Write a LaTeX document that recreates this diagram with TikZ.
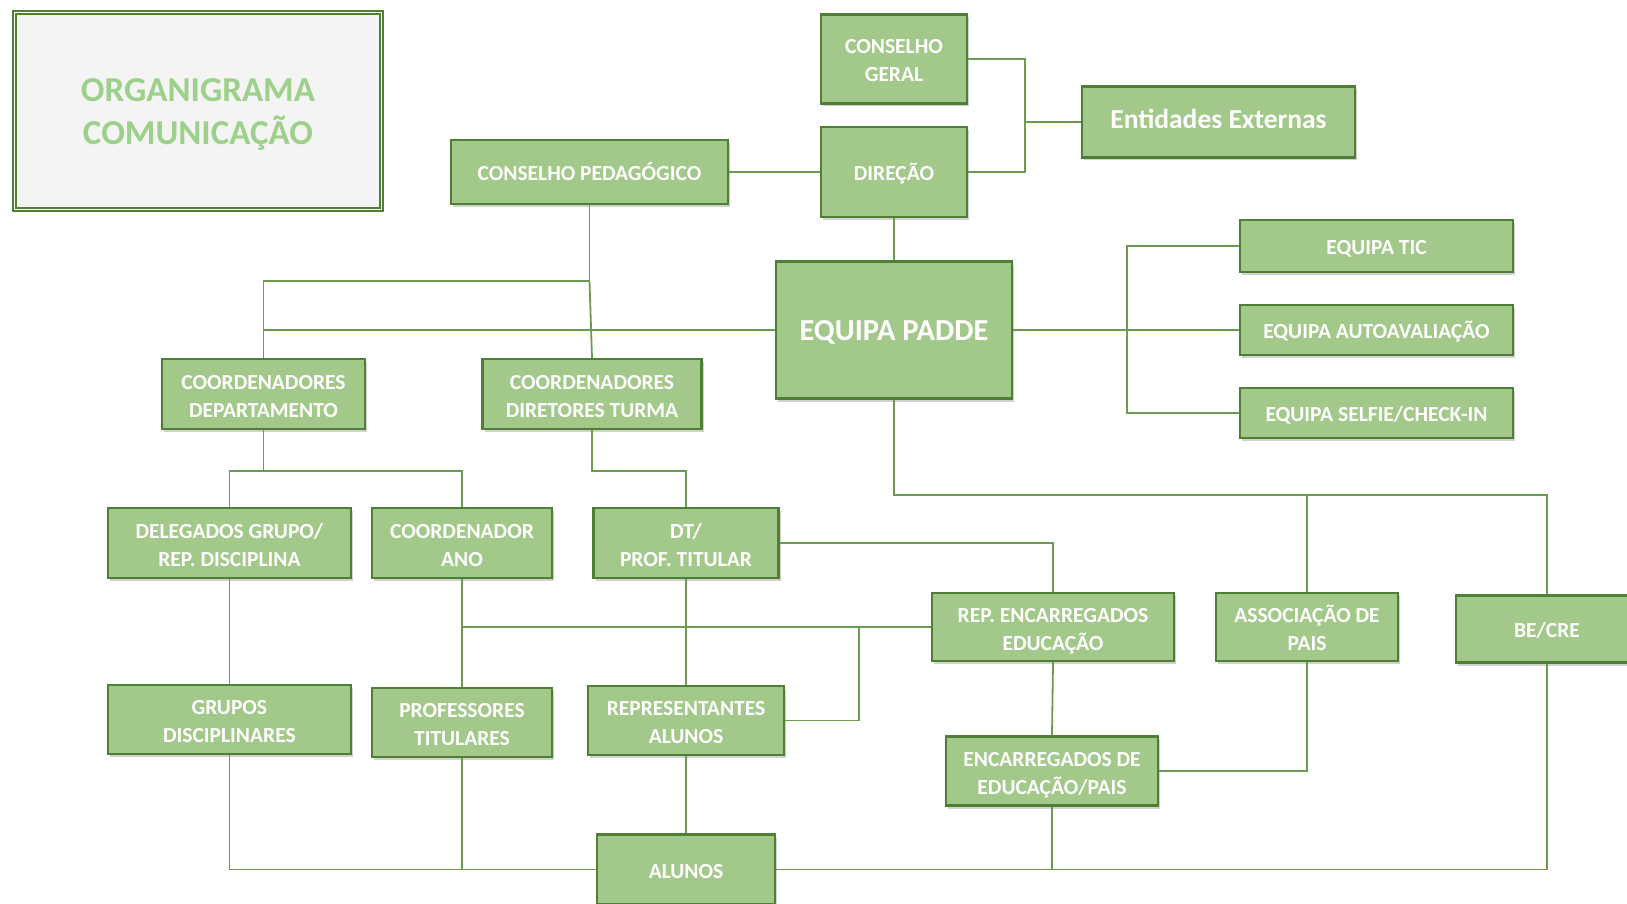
\documentclass[tikz,border=0pt]{standalone}
\usepackage{fontspec}
\setmainfont{Carlito}
\usetikzlibrary{shadows}
\definecolor{boxfill}{HTML}{A3C98A}
\definecolor{boxedge}{HTML}{4F7F35}
\definecolor{linec}{HTML}{6B9B4E}
\definecolor{titlefill}{HTML}{F4F4F4}
\definecolor{titletext}{HTML}{9DD08A}
\tikzset{
  box/.style={draw=boxedge, line width=2.2pt, fill=boxfill, text=white, align=center,
    inner sep=0pt, font=\bfseries\fontsize{21.5}{28}\selectfont, text height=22pt, text depth=5pt,
    drop shadow={shadow xshift=2pt, shadow yshift=-3pt, opacity=0.3, fill=black!60}},
  box2/.style={box, text height=51pt},
  conn/.style={draw=linec, line width=1.8pt},
}
\begin{document}
\begin{tikzpicture}[x=1pt,y=-1pt]
\useasboundingbox (0,0) rectangle (1627,904);
% title
\node[draw=boxedge, double=white, double distance=1.5pt, line width=1.4pt, fill=titlefill,
  minimum width=367pt, minimum height=197pt, align=center, text=titletext, inner sep=0pt,
  font=\bfseries\fontsize{35}{43}\selectfont, text height=74.8pt, text depth=7pt,
  drop shadow={shadow xshift=2pt, shadow yshift=-3pt, opacity=0.3, fill=black!60}]
  (title) at (198,111) {ORGANIGRAMA\\COMUNICAÇÃO};
% boxes
\node[box2, minimum width=146pt, minimum height=89pt] (cg) at (894,59) {CONSELHO\\GERAL};
\node[box, minimum width=146pt, minimum height=90pt] (dir) at (894,172) {DIREÇÃO};
\node[box, minimum width=273pt, minimum height=71pt, font=\bfseries\fontsize{27.5}{32}\selectfont, text height=18.6pt] (ent) at (1218.5,122) {Entidades Externas};
\node[box, minimum width=277pt, minimum height=64pt] (cped) at (589.5,172) {CONSELHO PEDAGÓGICO};
\node[box, minimum width=236pt, minimum height=137pt, font=\bfseries\fontsize{30.5}{36}\selectfont, text height=25.8pt] (padde) at (894,330) {EQUIPA PADDE};
\node[box, minimum width=273pt, minimum height=52pt] (tic) at (1376.5,246) {EQUIPA TIC};
\node[box, minimum width=273pt, minimum height=50pt] (auto) at (1376.5,330) {EQUIPA AUTOAVALIAÇÃO};
\node[box, minimum width=273pt, minimum height=50pt] (selfie) at (1376.5,413) {EQUIPA SELFIE/CHECK-IN};
\node[box2, minimum width=203pt, minimum height=70pt] (cdep) at (263.5,394) {COORDENADORES\\DEPARTAMENTO};
\node[box2, minimum width=219pt, minimum height=70pt] (cdir) at (592,394) {COORDENADORES\\DIRETORES TURMA};
\node[box2, minimum width=243pt, minimum height=70pt] (del) at (229.4,543) {DELEGADOS GRUPO/\\REP. DISCIPLINA};
\node[box2, minimum width=180pt, minimum height=70pt] (cano) at (462,543) {COORDENADOR\\ANO};
\node[box2, minimum width=185pt, minimum height=70pt] (dt) at (686,543) {DT/\\PROF. TITULAR};
\node[box2, minimum width=242pt, minimum height=68pt] (repenc) at (1053,627) {REP. ENCARREGADOS\\EDUCAÇÃO};
\node[box2, minimum width=182pt, minimum height=68pt] (assoc) at (1307,627) {ASSOCIAÇÃO DE\\PAIS};
\node[box, minimum width=182pt, minimum height=67pt] (becre) at (1547,629) {BE/CRE};
\node[box2, minimum width=243pt, minimum height=69pt] (grup) at (229.4,719.5) {GRUPOS\\DISCIPLINARES};
\node[box2, minimum width=180pt, minimum height=69pt] (prof) at (462,722.5) {PROFESSORES\\TITULARES};
\node[box2, minimum width=196pt, minimum height=69pt] (repal) at (686,720.5) {REPRESENTANTES\\ALUNOS};
\node[box2, minimum width=212pt, minimum height=69pt] (encedu) at (1052,771) {ENCARREGADOS DE\\EDUCAÇÃO/PAIS};
\node[box, minimum width=178pt, minimum height=70pt] (alunos) at (686,869.5) {ALUNOS};
% junction coordinates
\coordinate (e1) at (1025,122);
\coordinate (j1) at (589.5,281);
\coordinate (t1) at (1127,330);
\coordinate (bus) at (894,495);
\coordinate (h2) at (859,627);
% connectors
\draw[conn] (cg.east) -| (e1);
\draw[conn] (dir.east) -| (e1);
\draw[conn] (e1) -- (ent.west);
\draw[conn] (cped.east) -- (dir.west);
\draw[conn] (dir.south) -- (padde.north);
\draw[conn] (padde.east) -- (t1);
\draw[conn] (t1) |- (tic.west);
\draw[conn] (t1) |- (selfie.west);
\draw[conn] (t1) -- (auto.west);
\draw[conn] (padde.west) -| (cdep.north);
\draw[conn] (cped.south) -- (j1) -| (cdep.north);
\draw[conn] (j1) -- (cdir.north);
\draw[conn] (cdep.south) -- ++(0,41) -| (del.north);
\draw[conn] (cdep.south) -- ++(0,41) -| (cano.north);
\draw[conn] (cdir.south) -- ++(0,41) -| (dt.north);
\draw[conn] (dt.east) -| (repenc.north);
\draw[conn] (dt.south) -- (repal.north);
\draw[conn] (cano.south) -- (prof.north);
\draw[conn] (cano.south |- repenc.west) -- (repenc.west);
\draw[conn] (repal.east) -| (h2);
\draw[conn] (del.south) -- (grup.north);
\draw[conn] (repenc.south) -- (encedu.north);
\draw[conn] (encedu.east) -| (assoc.south);
\draw[conn] (padde.south) -- (bus) -| (becre.north);
\draw[conn] (assoc.north) -- (assoc.north |- bus);
\draw[conn] (grup.south) |- (alunos.west);
\draw[conn] (prof.south) -- (prof.south |- alunos.west);
\draw[conn] (repal.south) -- (alunos.north);
\draw[conn] (alunos.east) -| (becre.south);
\draw[conn] (encedu.south) -- (encedu.south |- alunos.east);
\end{tikzpicture}
\end{document}
